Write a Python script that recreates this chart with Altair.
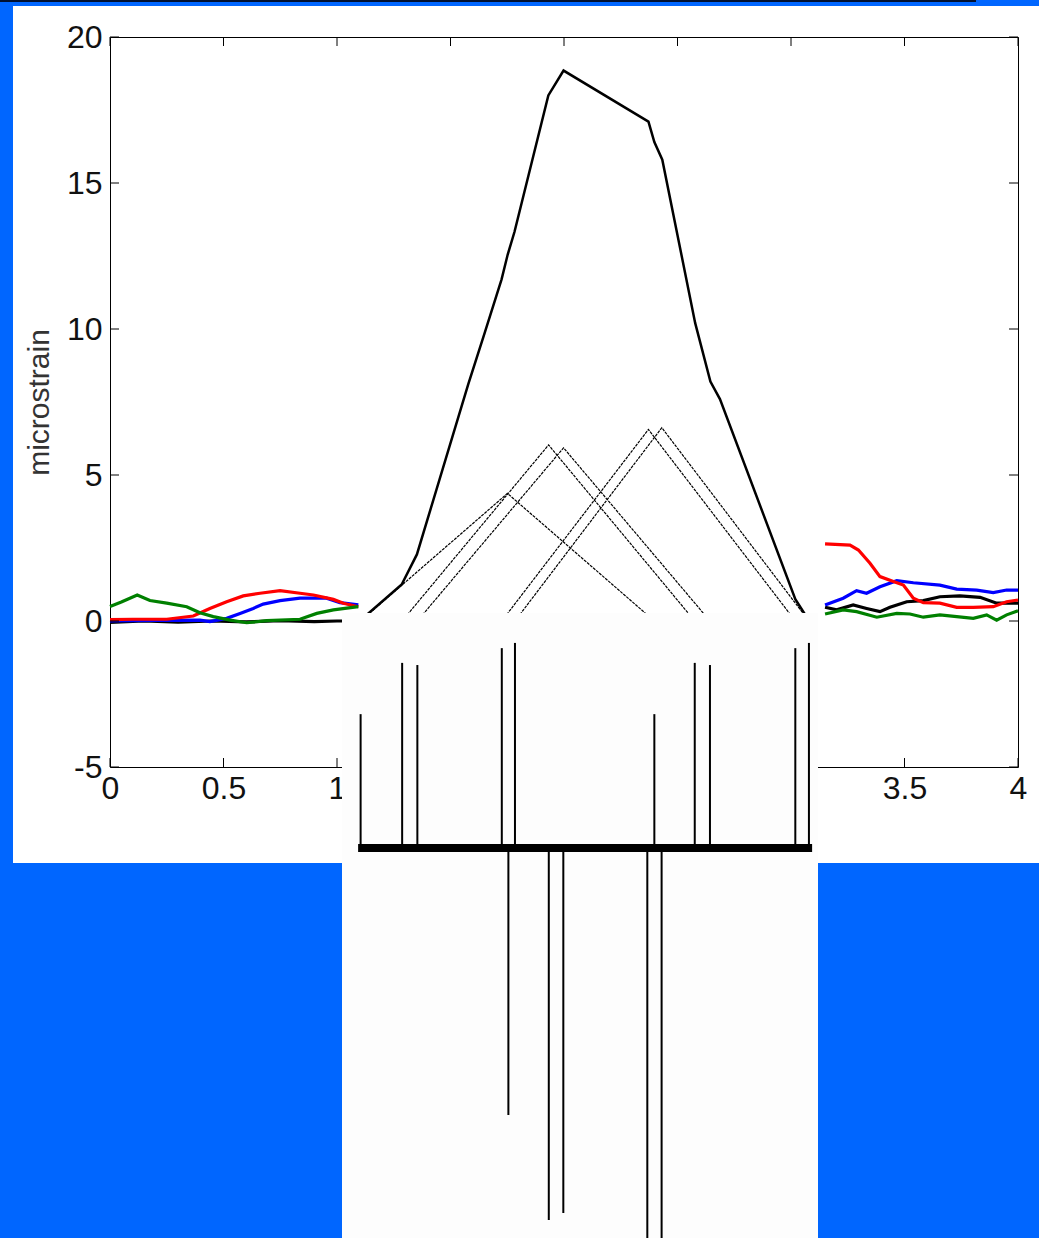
import altair as alt
import pandas as pd

# ---------------- data ----------------
# coloured traces (microstrain vs time), left part and right part
black_l_x = [0, 0.15, 0.3, 0.45, 0.6, 0.75, 0.9, 1.0, 1.094]
black_l_y = [-0.05, 0.0, -0.04, 0.0, -0.03, 0.01, -0.02, 0.0, 0.0]
blue_l_x = [0, 0.2, 0.396, 0.44, 0.514, 0.573, 0.631, 0.675, 0.749, 0.837, 0.954, 1.013, 1.094]
blue_l_y = [0.0, 0.02, 0.03, -0.02, 0.09, 0.26, 0.43, 0.58, 0.70, 0.78, 0.78, 0.63, 0.55]
red_l_x = [0, 0.10, 0.25, 0.367, 0.44, 0.514, 0.587, 0.661, 0.749, 0.837, 0.896, 0.984, 1.028, 1.094]
red_l_y = [0.05, 0.06, 0.06, 0.17, 0.43, 0.66, 0.86, 0.95, 1.04, 0.95, 0.89, 0.74, 0.61, 0.49]
green_l_x = [0, 0.05, 0.12, 0.176, 0.25, 0.338, 0.396, 0.455, 0.529, 0.602, 0.69, 0.837, 0.911, 0.984, 1.094]
green_l_y = [0.5, 0.65, 0.89, 0.70, 0.61, 0.49, 0.28, 0.15, 0.03, -0.06, 0.01, 0.06, 0.26, 0.38, 0.49]

black_r_x = [3.150, 3.201, 3.274, 3.333, 3.392, 3.436, 3.510, 3.583, 3.656, 3.744, 3.833, 3.906, 4.0]
black_r_y = [0.47, 0.38, 0.55, 0.43, 0.32, 0.47, 0.66, 0.70, 0.83, 0.86, 0.81, 0.61, 0.61]
blue_r_x = [3.150, 3.230, 3.289, 3.333, 3.392, 3.466, 3.539, 3.656, 3.730, 3.818, 3.891, 3.950, 4.0]
blue_r_y = [0.55, 0.78, 1.04, 0.95, 1.17, 1.38, 1.31, 1.23, 1.09, 1.06, 0.97, 1.06, 1.06]
red_r_x = [3.150, 3.26, 3.297, 3.348, 3.392, 3.451, 3.495, 3.539, 3.583, 3.656, 3.730, 3.803, 3.891, 3.950, 4.0]
red_r_y = [2.64, 2.60, 2.43, 1.98, 1.52, 1.35, 1.23, 0.78, 0.63, 0.61, 0.47, 0.47, 0.49, 0.66, 0.72]
green_r_x = [3.150, 3.230, 3.289, 3.378, 3.466, 3.524, 3.583, 3.656, 3.730, 3.803, 3.862, 3.906, 3.950, 4.0]
green_r_y = [0.24, 0.38, 0.32, 0.13, 0.26, 0.24, 0.13, 0.21, 0.15, 0.09, 0.21, 0.03, 0.21, 0.35]

# thick summed line
sum_x = [1.10, 1.285, 1.352, 1.578, 1.652, 1.725, 1.752, 1.782, 1.931, 1.998,
         2.372, 2.398, 2.433, 2.578, 2.645, 2.687, 3.019, 3.08]
sum_y = [0.0, 1.25, 2.28, 8.1, 9.9, 11.7, 12.55, 13.33, 18.0, 18.85,
         17.1, 16.4, 15.8, 10.2, 8.2, 7.6, 0.75, 0.0]

# thin dotted triangles (left foot, peak, right foot)
tri_left = [1.104, 1.287, 1.354, 1.726, 1.784]
tri_peak_x = [1.751, 1.932, 1.998, 2.372, 2.431]
tri_peak_y = [4.37, 6.03, 5.93, 6.56, 6.62]
tri_right = [2.398, 2.576, 2.643, 3.019, 3.079]

# spike train in the white insert
up_x = [1.104, 1.287, 1.354, 1.726, 1.784, 2.398, 2.576, 2.643, 3.019, 3.079]
up_h = [4.36, 6.03, 5.96, 6.51, 6.68, 4.36, 6.03, 5.96, 6.51, 6.68]
down_x = [1.755, 1.933, 1.997, 2.367, 2.430]
down_h = [-8.70, -12.12, -11.89, -13.1, -13.3]
baseline_span = [1.093, 3.093]

x_ticks = [0, 0.5, 1, 1.5, 2, 2.5, 3, 3.5, 4]
y_ticks = [-5, 0, 5, 10, 15, 20]

# ---------------- chart ----------------
W, H = 908, 730
FONT = "Liberation Sans"
BLUE = "#0066FF"
COLORS = {"black": "#000000", "blue": "#0000FF", "red": "#FF0000", "green": "#008000"}

xscale = alt.Scale(domain=[0, 4], nice=False, zero=False)
yscale = alt.Scale(domain=[-5, 20], nice=False, zero=False)
spike_scale = alt.Scale(domain=[0, 6.5], range=[811, 811 - 6.5 * 30.7], nice=False, zero=False)

xaxis = alt.Axis(values=x_ticks, labelExpr="datum.value + ''", ticks=False, domain=False, grid=False,
                 labelFont=FONT, labelFontSize=32, labelColor="#111", labelPadding=6,
                 labelFlush=False, labelOverlap=False, title=None)
yaxis = alt.Axis(values=y_ticks, labelExpr="datum.value + ''", ticks=False, domain=False, grid=False,
                 labelFont=FONT, labelFontSize=32, labelColor="#111", labelPadding=8,
                 labelFlush=False, labelOverlap=False,
                 title="microstrain", titleFont=FONT, titleFontSize=30,
                 titleFontWeight="normal", titleColor="#333", titlePadding=12)


def X(field):
    return alt.X(field, scale=xscale, axis=xaxis)


def Y(field):
    return alt.Y(field, scale=yscale, axis=yaxis)


one = pd.DataFrame({"d": [0]})


def rect(x, x2, y, y2, color):
    return alt.Chart(one).mark_rect(color=color, strokeWidth=0).encode(
        x=alt.value(x), x2=alt.value(x2), y=alt.value(y), y2=alt.value(y2))


rows = []
traces = {
    "black": [(black_l_x, black_l_y), (black_r_x, black_r_y)],
    "blue": [(blue_l_x, blue_l_y), (blue_r_x, blue_r_y)],
    "red": [(red_l_x, red_l_y), (red_r_x, red_r_y)],
    "green": [(green_l_x, green_l_y), (green_r_x, green_r_y)],
}
for name, segs in traces.items():
    for si, (xs, ys) in enumerate(segs):
        for i, (xv, yv) in enumerate(zip(xs, ys)):
            rows.append({"series": name, "seg": si, "i": i, "x": xv, "y": yv})
lines_df = pd.DataFrame(rows)

layers = []
# blue slide background pieces
layers.append(rect(-110, -97, -37, 1201, BLUE))
layers.append(rect(-110, 929, -37, -31, BLUE))
layers.append(rect(-110, 866, -37, -35, "#001030"))
layers.append(rect(-110, 929, 826, 1201, BLUE))

for name in ["black", "blue", "red", "green"]:
    layers.append(
        alt.Chart(lines_df[lines_df.series == name]).mark_line(
            strokeWidth=3.2, color=COLORS[name]).encode(
            x=X("x:Q"), y=Y("y:Q"), detail="seg:N", order="i:Q"))

tri_rows = []
for k in range(len(tri_left)):
    tri_rows += [{"t": k, "i": 0, "x": tri_left[k], "y": 0},
                 {"t": k, "i": 1, "x": tri_peak_x[k], "y": tri_peak_y[k]},
                 {"t": k, "i": 2, "x": tri_right[k], "y": 0}]
tri_df = pd.DataFrame(tri_rows)
layers.append(alt.Chart(tri_df).mark_line(strokeWidth=1.2, color="black", strokeDash=[3, 1]).encode(
    x=X("x:Q"), y=Y("y:Q"), detail="t:N", order="i:Q"))

sum_df = pd.DataFrame({"x": sum_x, "y": sum_y, "i": range(len(sum_x))})
layers.append(alt.Chart(sum_df).mark_line(strokeWidth=2.5, color="black").encode(
    x=X("x:Q"), y=Y("y:Q"), order="i:Q"))

# inward ticks (MATLAB style box)
ydf = pd.DataFrame({"v": y_ticks})
xdf = pd.DataFrame({"v": x_ticks})
layers.append(alt.Chart(ydf).mark_rule(color="black", strokeWidth=1).encode(
    y=Y("v:Q"), x=alt.value(0), x2=alt.value(9)))
layers.append(alt.Chart(ydf).mark_rule(color="black", strokeWidth=1).encode(
    y=Y("v:Q"), x=alt.value(W - 9), x2=alt.value(W)))
layers.append(alt.Chart(xdf).mark_rule(color="black", strokeWidth=1).encode(
    x=X("v:Q"), y=alt.value(0), y2=alt.value(9)))
layers.append(alt.Chart(xdf).mark_rule(color="black", strokeWidth=1).encode(
    x=X("v:Q"), y=alt.value(H - 9), y2=alt.value(H)))

# white insert
layers.append(rect(232, 708, 576, 1201, "#FDFDFD"))

main = alt.layer(*layers)

spk_df = pd.DataFrame({"x": up_x + down_x, "base": [0] * (len(up_x) + len(down_x)),
                       "amp": up_h + down_h})
spikes = alt.Chart(spk_df).mark_rule(color="black", strokeWidth=2).encode(
    x=X("x:Q"),
    y=alt.Y("base:Q", scale=spike_scale, axis=None), y2="amp:Q")
base_df = pd.DataFrame({"x0": [baseline_span[0]], "x1": [baseline_span[1]], "b": [0]})
baseline = alt.Chart(base_df).mark_rule(color="black", strokeWidth=8).encode(
    x=X("x0:Q"), x2="x1:Q",
    y=alt.Y("b:Q", scale=spike_scale, axis=None))

spike_group = alt.layer(spikes, baseline)

chart = alt.layer(main, spike_group).resolve_scale(y="independent").properties(
    width=W, height=H,
    padding={"left": 110, "top": 37, "right": 21, "bottom": 471},
    autosize=alt.AutoSizeParams(type="none"),
    background="white",
).configure_view(stroke="black", strokeWidth=1)

chart.save("out.html", embed_options={"renderer": "svg", "actions": False})
